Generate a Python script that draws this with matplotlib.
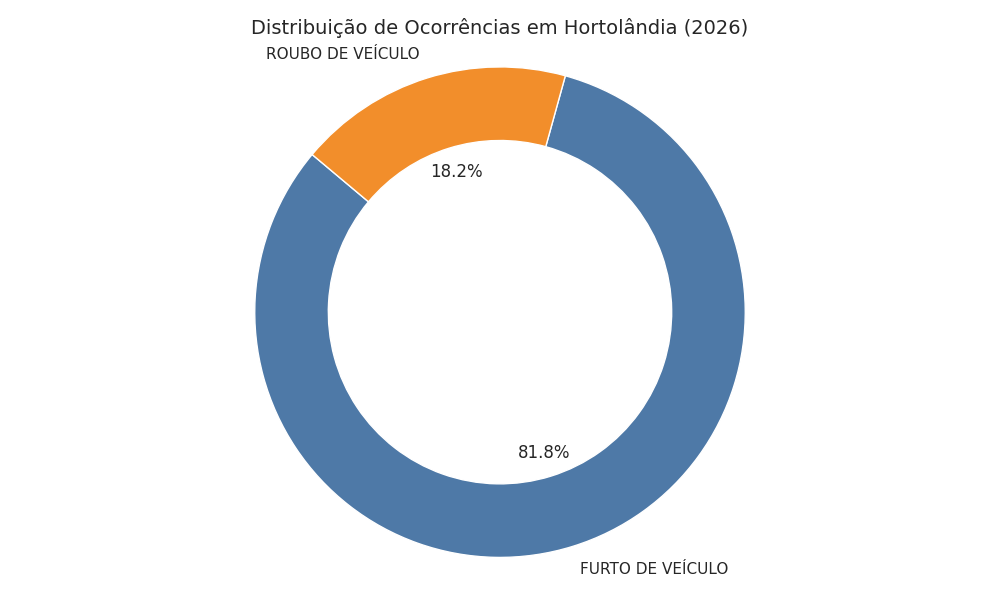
import matplotlib.pyplot as plt

# Dados
categorias = ['FURTO DE VEÍCULO', 'ROUBO DE VEÍCULO']
valores = [9, 2]
cores = ['#4e79a7', '#f28e2b']

plt.rcParams['text.color'] = '#262626'

fig, ax = plt.subplots(figsize=(10, 6), dpi=100)
wedges, texts, autotexts = ax.pie(valores, labels=categorias, colors=cores, autopct='%1.1f%%',
                                  startangle=140, pctdistance=0.6, labeldistance=1.1,
                                  wedgeprops=dict(width=0.3, edgecolor='white'),
                                  textprops=dict(fontsize=11, color='#262626'))
for t in autotexts:
    t.set_fontsize(12)
ax.axis('equal')
ax.set_title('Distribuição de Ocorrências em Hortolândia (2026)', fontsize=14, color='#262626')
plt.tight_layout(pad=1.3)
plt.savefig('out.png')
